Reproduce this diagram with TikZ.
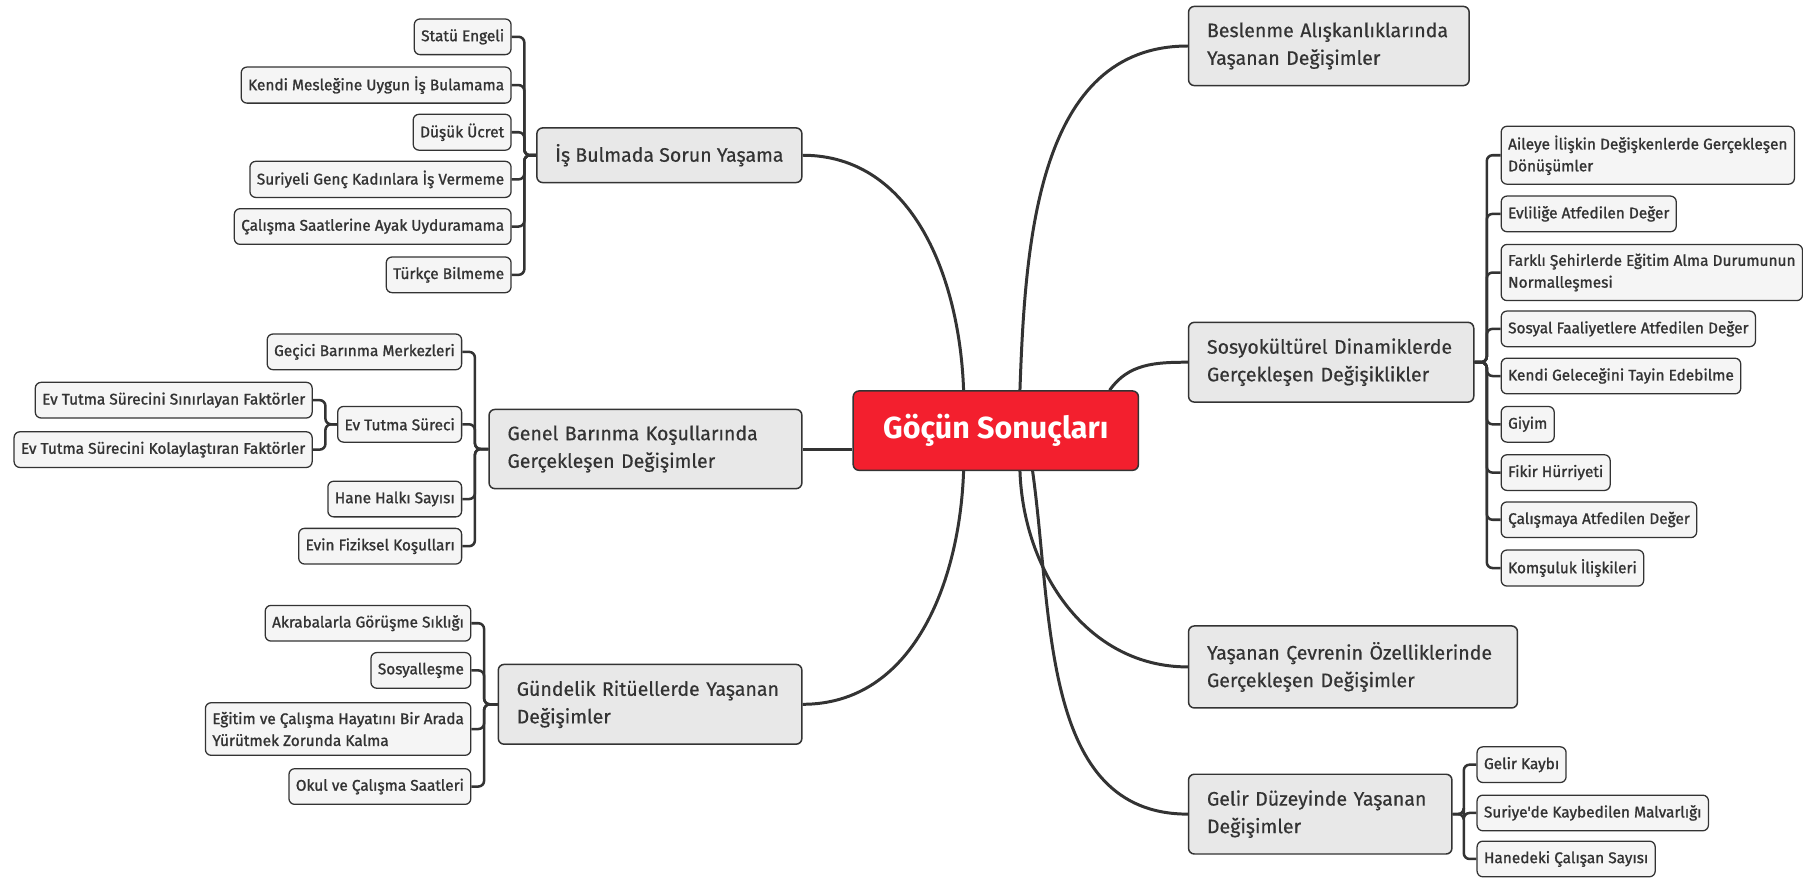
\documentclass[tikz,border=0pt]{standalone}
\usepackage{fontspec}
\setmainfont{Fira Sans}
\newfontfamily\subfont{Fira Sans}[FakeBold=1.2]
\newfontfamily\topicfont{Fira Sans}[FakeBold=0.5]
\definecolor{rootred}{HTML}{F31F2E}
\definecolor{topicgray}{HTML}{E8E8E8}
\definecolor{subgray}{HTML}{F5F5F5}
\definecolor{linegray}{HTML}{333333}
\begin{document}
\begin{tikzpicture}[x=1pt,y=-1pt,
 rootbox/.style={draw=linegray,line width=1.3pt,fill=rootred,rounded corners=5pt,minimum width=248pt,minimum height=69pt,text=white,font=\fontsize{26.5}{30}\selectfont\bfseries},
 topic/.style={draw=linegray,line width=1.3pt,fill=topicgray,rounded corners=5pt,inner xsep=16pt,inner ysep=14pt,minimum height=46pt,align=left,text=linegray,font=\topicfont\fontsize{17}{24}\selectfont},
 sub/.style={draw=linegray,line width=1.1pt,fill=subgray,rounded corners=5pt,inner xsep=6pt,inner ysep=8pt,minimum height=31pt,align=left,text=linegray,font=\subfont\fontsize{13.4}{19}\selectfont},
 branch/.style={draw=linegray,line width=2.6pt},
 twig/.style={draw=linegray,line width=2.2pt,rounded corners=5pt}]
 \useasboundingbox (0,0) rectangle (1568,764);
 \node[rootbox] (root) at (866,374.5) {Göçün Sonuçları};
 \node[topic,anchor=east] (is) at (698,135) {İş Bulmada Sorun Yaşama};
 \node[topic,anchor=east,text width=240pt] (barinma) at (698,390.5) {Genel Barınma Koşullarında\\Gerçekleşen Değişimler};
 \node[topic,anchor=east,text width=232pt] (gundelik) at (698,612.5) {Gündelik Ritüellerde Yaşanan\\Değişimler};
 \node[topic,anchor=west,text width=212pt] (beslenme) at (1033,40) {Beslenme Alışkanlıklarında\\Yaşanan Değişimler};
 \node[topic,anchor=west,text width=216pt] (sosyo) at (1033,315) {Sosyokültürel Dinamiklerde\\Gerçekleşen Değişiklikler};
 \node[topic,anchor=west,text width=254pt] (cevre) at (1033,580) {Yaşanan Çevrenin Özelliklerinde\\Gerçekleşen Değişimler};
 \node[topic,anchor=west,text width=197pt] (gelir) at (1033,708) {Gelir Düzeyinde Yaşanan\\Değişimler};
 \node[sub,anchor=east] (is1) at (445,32) {Statü Engeli};
 \node[sub,anchor=east] (is2) at (445,74) {Kendi Mesleğine Uygun İş Bulamama};
 \node[sub,anchor=east] (is3) at (445,115) {Düşük Ücret};
 \node[sub,anchor=east] (is4) at (445,156) {Suriyeli Genç Kadınlara İş Vermeme};
 \node[sub,anchor=east] (is5) at (445,197) {Çalışma Saatlerine Ayak Uyduramama};
 \node[sub,anchor=east] (is6) at (445,239) {Türkçe Bilmeme};
 \node[sub,anchor=east] (bar1) at (402,306) {Geçici Barınma Merkezleri};
 \node[sub,anchor=east] (bar2) at (402,369) {Ev Tutma Süreci};
 \node[sub,anchor=east] (bar3) at (402,434) {Hane Halkı Sayısı};
 \node[sub,anchor=east] (bar4) at (402,475) {Evin Fiziksel Koşulları};
 \node[sub,anchor=east] (ev1) at (272,348) {Ev Tutma Sürecini Sınırlayan Faktörler};
 \node[sub,anchor=east] (ev2) at (272,391) {Ev Tutma Sürecini Kolaylaştıran Faktörler};
 \node[sub,anchor=east] (gun1) at (410,542) {Akrabalarla Görüşme Sıklığı};
 \node[sub,anchor=east] (gun2) at (410,583) {Sosyalleşme};
 \node[sub,anchor=east] (gun3) at (410,634) {Eğitim ve Çalışma Hayatını Bir Arada\\Yürütmek Zorunda Kalma};
 \node[sub,anchor=east] (gun4) at (410,684) {Okul ve Çalışma Saatleri};
 \node[sub,anchor=west] (sos1) at (1305,135) {Aileye İlişkin Değişkenlerde Gerçekleşen\\Dönüşümler};
 \node[sub,anchor=west] (sos2) at (1305,186) {Evliliğe Atfedilen Değer};
 \node[sub,anchor=west] (sos3) at (1305,237) {Farklı Şehirlerde Eğitim Alma Durumunun\\Normalleşmesi};
 \node[sub,anchor=west] (sos4) at (1305,286) {Sosyal Faaliyetlere Atfedilen Değer};
 \node[sub,anchor=west] (sos5) at (1305,327) {Kendi Geleceğini Tayin Edebilme};
 \node[sub,anchor=west] (sos6) at (1305,369) {Giyim};
 \node[sub,anchor=west] (sos7) at (1305,411) {Fikir Hürriyeti};
 \node[sub,anchor=west] (sos8) at (1305,452) {Çalışmaya Atfedilen Değer};
 \node[sub,anchor=west] (sos9) at (1305,494) {Komşuluk İlişkileri};
 \node[sub,anchor=west] (gel1) at (1284,665) {Gelir Kaybı};
 \node[sub,anchor=west] (gel2) at (1284,707) {Suriye'de Kaybedilen Malvarlığı};
 \node[sub,anchor=west] (gel3) at (1284,747) {Hanedeki Çalışan Sayısı};
 \draw[branch] ([xshift=-28pt]root.north) to[out=92,in=0] (is.east);
 \draw[branch] (barinma.east) -- (root.west |- barinma.east);
 \draw[branch] ([xshift=-28pt]root.south) to[out=-92,in=0] (gundelik.east);
 \draw[branch] ([xshift=21pt]root.north) to[out=88,in=180] (beslenme.west);
 \draw[branch] ([xshift=99pt]root.north) to[out=55,in=180] (sosyo.west);
 \draw[branch] ([xshift=21pt]root.south) to[out=-88,in=180] (cevre.west);
 \draw[branch] ([xshift=32pt]root.south) to[out=-82,in=180] (gelir.west);
 \foreach \s in {is1,is2,is3,is4,is5,is6}
  \draw[twig] (is.west) -- ([xshift=11pt]is1.east |- is.west) |- (\s.east);
 \foreach \s in {bar1,bar2,bar3,bar4}
  \draw[twig] (barinma.west) -- ([xshift=11pt]bar1.east |- barinma.west) |- (\s.east);
 \foreach \s in {ev1,ev2}
  \draw[twig] (bar2.west) -- ([xshift=11pt]ev1.east |- bar2.west) |- (\s.east);
 \foreach \s in {gun1,gun2,gun3,gun4}
  \draw[twig] (gundelik.west) -- ([xshift=11pt]gun1.east |- gundelik.west) |- (\s.east);
 \foreach \s in {sos1,sos2,sos3,sos4,sos5,sos6,sos7,sos8,sos9}
  \draw[twig] (sosyo.east) -- ([xshift=-12pt]sos1.west |- sosyo.east) |- (\s.west);
 \foreach \s in {gel1,gel2,gel3}
  \draw[twig] (gelir.east) -- ([xshift=-11pt]gel1.west |- gelir.east) |- (\s.west);
\end{tikzpicture}
\end{document}
